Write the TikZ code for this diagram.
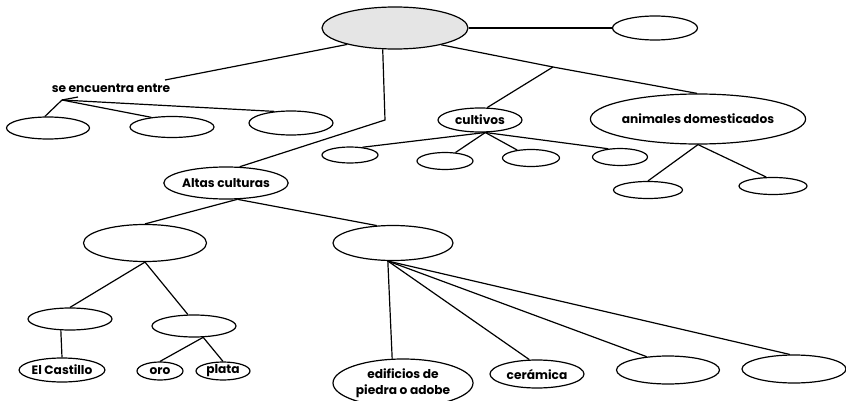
\documentclass[tikz,border=0pt]{standalone}
\usepackage{fontspec}
\setmainfont{Poppins}
\usetikzlibrary{shapes.geometric}
\begin{document}
\begin{tikzpicture}[x=1pt,y=-1pt,
  bub/.style={draw,ellipse,inner sep=0pt,line width=1.2pt,font=\fontsize{12.2}{13.5}\selectfont\bfseries},
  con/.style={line width=1.2pt},
  lbl/.style={inner sep=0pt,font=\fontsize{12.2}{13.5}\selectfont\bfseries}]
\useasboundingbox (0,0) rectangle (846,401);
% nodes
\node[bub,fill=gray!20,minimum width=146pt,minimum height=42pt] (root) at (395,28) {};
\node[bub,minimum width=85pt,minimum height=24pt] (tr) at (655,28) {};
\node[lbl] (se) at (111,88) {se encuentra entre};
\coordinate (j1) at (165,80);
\coordinate (j2) at (62,100);
\coordinate (tick) at (78,97);
\node[bub,minimum width=83pt,minimum height=22pt] (e1) at (48,128) {};
\node[bub,minimum width=84pt,minimum height=21pt] (e2) at (172,127) {};
\node[bub,minimum width=84pt,minimum height=24pt] (e3) at (291,123) {};
\coordinate (k) at (385,120);
\coordinate (m) at (553,67);
\node[bub,minimum width=84pt,minimum height=24pt] (cult) at (480,120) {cultivos};
\node[bub,minimum width=170pt,minimum height=50pt] (anim) at (698,119) {animales domesticados};
\node[bub,minimum width=56pt,minimum height=16pt] (c1) at (350,155) {};
\node[bub,minimum width=56pt,minimum height=17pt] (c2) at (445,161) {};
\node[bub,minimum width=57pt,minimum height=17pt] (c3) at (531,158) {};
\node[bub,minimum width=55pt,minimum height=17pt] (c4) at (620,157) {};
\node[bub,minimum width=69pt,minimum height=17pt] (a1) at (648,190) {};
\node[bub,minimum width=68pt,minimum height=17pt] (a2) at (773,186) {};
\node[bub,minimum width=121pt,minimum height=32pt] (alt) at (226,183) {Altas culturas};
\node[bub,minimum width=123pt,minimum height=37pt] (L) at (145,243) {};
\node[bub,minimum width=120pt,minimum height=35pt] (R) at (393,243) {};
\node[bub,minimum width=84pt,minimum height=22pt] (LL) at (70,319) {};
\node[bub,minimum width=84pt,minimum height=22pt] (LR) at (194,326) {};
\node[bub,minimum width=84pt,minimum height=24pt] (cas) at (62,370) {El Castillo};
\node[bub,minimum width=46pt,minimum height=18pt] (oro) at (160,371) {oro};
\node[bub,minimum width=54pt,minimum height=18pt] (pla) at (223,371) {plata};
\node[bub,minimum width=140pt,minimum height=48pt,align=center] (edi) at (403,383) {edificios de\\[3pt]piedra o adobe};
\node[bub,minimum width=94pt,minimum height=28pt] (cer) at (537,374) {cerámica};
\node[bub,minimum width=103pt,minimum height=28pt] (r3) at (668,370) {};
\node[bub,minimum width=104pt,minimum height=28pt] (r4) at (794,369) {};
% connectors
\draw[con] (root.east) -- (tr.west);
\draw[con] (root.199.5) -- (j1);
\draw[con] (tick) -- (j2);
\draw[con] (j2) -- (e1.105);
\draw[con] (j2) -- (e2.155);
\draw[con] (j2) -- (e3.145);
\draw[con] (root.240) -- (k) -- (alt.50);
\draw[con] (root.-20) -- (m) -- (anim.92);
\draw[con] (m) -- (cult.60);
\draw[con] (cult.-67) -- (c1.32);
\draw[con] (cult.-67) -- (c2.39);
\draw[con] (cult.-67) -- (c3.150);
\draw[con] (cult.-67) -- (c4.145);
\draw[con] (anim.south) -- (a1.north);
\draw[con] (anim.south) -- (a2.127);
\draw[con] (alt.-55) -- (L.north);
\draw[con] (alt.-55) -- (R.133);
\draw[con] (L.south) -- (LL.north);
\draw[con] (L.south) -- (LR.118);
\draw[con] (LL.231) -- (cas.north);
\draw[con] (LR.-51) -- (oro.north);
\draw[con] (LR.-51) -- (pla.north);
\draw[con] (R.254) -- (edi.114);
\draw[con] (R.254) -- (cer.118);
\draw[con] (R.254) -- (r3.148);
\draw[con] (R.254) -- (r4.106);
\end{tikzpicture}
\end{document}
